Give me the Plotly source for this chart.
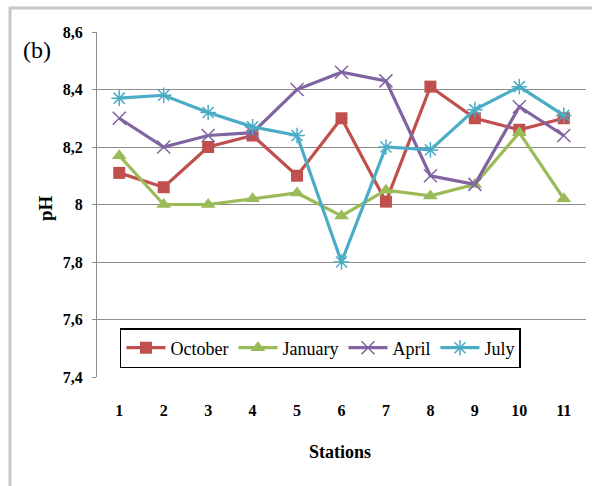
import plotly.graph_objects as go

stations = [1, 2, 3, 4, 5, 6, 7, 8, 9, 10, 11]
october = [8.11, 8.06, 8.20, 8.24, 8.10, 8.30, 8.01, 8.41, 8.30, 8.26, 8.30]
january = [8.17, 8.00, 8.00, 8.02, 8.04, 7.96, 8.05, 8.03, 8.07, 8.25, 8.02]
april = [8.30, 8.20, 8.24, 8.25, 8.40, 8.46, 8.43, 8.10, 8.07, 8.34, 8.24]
july = [8.37, 8.38, 8.32, 8.27, 8.24, 7.80, 8.20, 8.19, 8.33, 8.41, 8.31]
y_ticks = [7.4, 7.6, 7.8, 8.0, 8.2, 8.4, 8.6]
y_ticktext = ["7,4", "7,6", "7,8", "8", "8,2", "8,4", "8,6"]

SERIF = "Liberation Serif, Times New Roman, serif"

fig = go.Figure()
fig.add_trace(go.Scatter(x=stations, y=october, name="October", mode="lines+markers",
                         line=dict(color="#C0504D", width=3.2),
                         marker=dict(symbol="square", size=12, color="#C0504D")))
fig.add_trace(go.Scatter(x=stations, y=january, name="January", mode="lines+markers",
                         line=dict(color="#9BBB59", width=3.2),
                         marker=dict(symbol="triangle-up", size=13, color="#9BBB59")))
fig.add_trace(go.Scatter(x=stations, y=april, name="April", mode="lines+markers",
                         line=dict(color="#8064A2", width=3.2),
                         marker=dict(symbol="x-thin-open", size=13, color="#8064A2",
                                     line=dict(color="#9E8CC0", width=1.5))))
fig.add_trace(go.Scatter(x=stations, y=july, name="July", mode="lines+markers",
                         line=dict(color="#4BACC6", width=3.2),
                         marker=dict(symbol="asterisk-open", size=13, color="#4BACC6",
                                     line=dict(color="#6FC0D6", width=1.5))))

fig.update_layout(
    width=592, height=486,
    margin=dict(l=97, r=6, t=32, b=109),
    paper_bgcolor="white", plot_bgcolor="white",
    font=dict(family=SERIF, color="black"),
    showlegend=True,
    legend=dict(orientation="h", x=0.047, y=0.142, xanchor="left", yanchor="top",
                bgcolor="white", bordercolor="black", borderwidth=1.5,
                font=dict(family=SERIF, size=18, color="black"),
                itemwidth=39, tracegroupgap=0),
    xaxis=dict(range=[0.5, 11.5], tickmode="array", tickvals=stations,
               ticktext=[str(s) for s in stations], showgrid=False, zeroline=False,
               showline=False, ticks="", ticklabelstandoff=22,
               tickfont=dict(family=SERIF, size=16, color="black", weight="bold")),
    yaxis=dict(range=[7.4, 8.6], tickmode="array", tickvals=y_ticks, ticktext=y_ticktext,
               showgrid=True, gridcolor="#8C8C8C", gridwidth=1, zeroline=False,
               showline=True, linecolor="#8C8C8C", linewidth=1,
               ticks="outside", ticklen=4, tickcolor="#8C8C8C", ticklabelstandoff=6,
               tickfont=dict(family=SERIF, size=16, color="black", weight="bold")),
)

fig.add_shape(type="rect", xref="paper", yref="paper",
              x0=(10 - 97) / 489, x1=(640 - 97) / 489,
              y0=(377 - 540) / 345, y1=1 + (32 - 8) / 345,
              line=dict(color="#C8C8C8", width=3), fillcolor="rgba(0,0,0,0)", layer="below")

fig.add_annotation(text="(b)", xref="paper", yref="paper",
                   x=(37 - 97) / 489, y=1 - (50 - 32) / 345, showarrow=False,
                   xanchor="center", yanchor="middle",
                   font=dict(family=SERIF, size=24, color="black"))
fig.add_annotation(text="<b>pH</b>", xref="paper", yref="paper",
                   x=(45 - 97) / 489, y=1 - (208 - 32) / 345, showarrow=False, textangle=-90,
                   xanchor="center", yanchor="middle",
                   font=dict(family=SERIF, size=19, color="black"))
fig.add_annotation(text="<b>Stations</b>", xref="paper", yref="paper",
                   x=(340 - 97) / 489, y=-(452 - 377) / 345, showarrow=False,
                   xanchor="center", yanchor="middle",
                   font=dict(family=SERIF, size=18, color="black"))

fig.write_html("out.html", config={"displayModeBar": False},
               post_script="document.body.style.margin='0';document.documentElement.style.overflow='hidden';")
